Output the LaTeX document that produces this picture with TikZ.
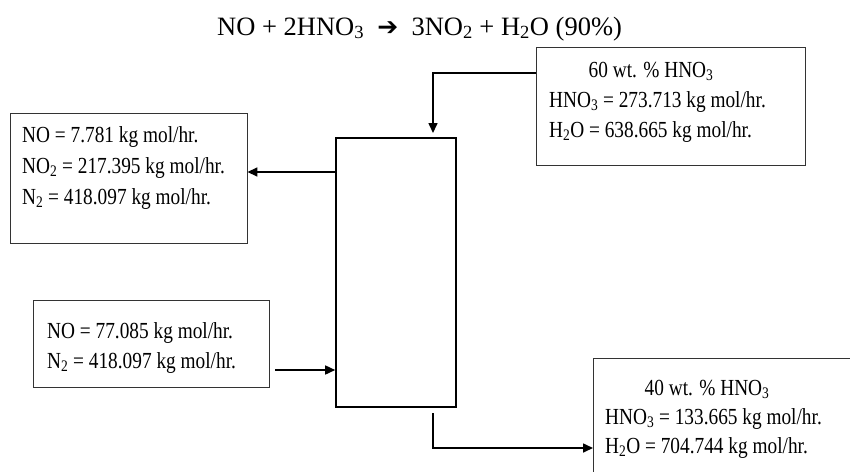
\documentclass[tikz,border=0pt]{standalone}
\usepackage{graphicx}
\usepackage{fontspec}
\setmainfont{Liberation Serif}
\newfontfamily\dejavu{DejaVu Sans}
\usetikzlibrary{arrows.meta}
\newcommand\sq[1]{\scalebox{0.84}[1]{#1}}
\begin{document}
\begin{tikzpicture}[x=1pt,y=-1pt,
  box/.style={draw=black!80, line width=0.9pt, inner sep=0pt},
  column/.style={draw=black, line width=1.6pt, inner sep=0pt},
  txt/.style={anchor=base west, inner sep=0pt, font=\fontsize{23}{28}\selectfont},
  ctxt/.style={anchor=base, inner sep=0pt, font=\fontsize{23}{28}\selectfont},
  arr/.style={line width=1.6pt, -{Triangle[length=10pt,width=9pt]}}]
\clip (0,0) rectangle (850,471);
\fill[white] (0,0) rectangle (850,471);

% equation
\node[anchor=base west, inner sep=0pt, font=\fontsize{26.5}{30}\selectfont] (eq) at (217,35)
  {NO + 2HNO\textsubscript{3}\ \ {\dejavu\fontsize{25}{28}\selectfont ➔}\ \ 3NO\textsubscript{2} + H\textsubscript{2}O (90\%)};

% column
\node[column, minimum width=120pt, minimum height=269pt] (col) at (396,272.5) {};

% top left box (gas out)
\node[box, minimum width=237pt, minimum height=130pt] (tl) at (128.5,178) {};
\node[txt] (tl1) at (22,142) {\sq{NO = 7.781 kg mol/hr.}};
\node[txt] (tl2) at (22,173) {\sq{NO\textsubscript{2} = 217.395 kg mol/hr.}};
\node[txt] (tl3) at (22,204) {\sq{N\textsubscript{2} = 418.097 kg mol/hr.}};

% top right box (acid feed)
\node[box, minimum width=269pt, minimum height=118pt] (tr) at (670.5,106) {};
\node[ctxt] (tr1) at (651,77) {\sq{60 wt. \% HNO\textsubscript{3}}};
\node[txt] (tr2) at (549,107) {\sq{HNO\textsubscript{3} = 273.713 kg mol/hr.}};
\node[txt] (tr3) at (549,137) {\sq{H\textsubscript{2}O = 638.665 kg mol/hr.}};

% bottom left box (gas in)
\node[box, minimum width=236pt, minimum height=87pt] (bl) at (151,343.5) {};
\node[txt] (bl1) at (47,338) {\sq{NO = 77.085 kg mol/hr.}};
\node[txt] (bl2) at (47,368) {\sq{N\textsubscript{2} = 418.097 kg mol/hr.}};

% bottom right box (acid product)
\node[box, minimum width=300pt, minimum height=150pt, anchor=north west] (br) at (593,358) {};
\node[ctxt] (br1) at (707,395) {\sq{40 wt. \% HNO\textsubscript{3}}};
\node[txt] (br2) at (605,424) {\sq{HNO\textsubscript{3} = 133.665 kg mol/hr.}};
\node[txt] (br3) at (605,453) {\sq{H\textsubscript{2}O = 704.744 kg mol/hr.}};

% connectors
\coordinate (feedin) at (536,73);
\coordinate (feedtip) at (433,133);
\draw[arr] (feedin) -| (feedtip);

\coordinate (gasout) at (336,172);
\draw[arr] (gasout) -- (tl.east |- gasout);

\coordinate (gasin) at (275,370);
\draw[arr] (gasin) -- (col.west |- gasin);

\coordinate (liqout) at (433,413);
\coordinate (liqtip) at (593,448);
\draw[arr] (liqout) |- (liqtip);
\end{tikzpicture}
\end{document}
